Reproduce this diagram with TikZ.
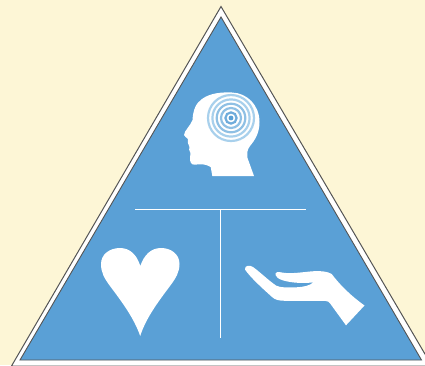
\documentclass[tikz,border=0pt]{standalone}
\definecolor{cream}{HTML}{FDF6D6}
\definecolor{tblue}{HTML}{5AA0D6}
\definecolor{ringa}{HTML}{A8D0EC}
\definecolor{ringb}{HTML}{8FC0E4}
\definecolor{ringc}{HTML}{6FACDB}
\definecolor{edge}{HTML}{555555}
\tikzset{
  outer/.style={fill=white,draw=edge,line width=1pt,line join=miter},
  inner/.style={fill=tblue,draw=edge,line width=0.9pt,line join=miter},
  icon/.style={fill=white,draw=none},
  rule/.style={draw=white,line width=1.2pt},
  ringline/.style={fill=none,line width=2.2pt},
}
\begin{document}
\begin{tikzpicture}[x=1pt,y=-1pt]
\useasboundingbox (0,0) rectangle (425,365);
\fill[cream] (0,0) rectangle (425,365);
\begin{scope}
\clip (0,0) rectangle (425,365);
\coordinate (oa) at (221,6.5);
\coordinate (ol) at (11.5,366);
\coordinate (or) at (432,366);
\draw[outer] (oa) -- (ol) -- (or) -- cycle;
\coordinate (ia) at (221,17);
\coordinate (il) at (20,360);
\coordinate (ir) at (421.5,360);
\draw[inner] (ia) -- (il) -- (ir) -- cycle;
\end{scope}
\coordinate (h1) at (135,209.4);
\coordinate (h2) at (306,209.4);
\coordinate (v1) at (220.5,209.4);
\coordinate (v2) at (220.5,338);
\draw[rule] (h1) -- (h2);
\draw[rule] (v1) -- (v2);
% head
\fill[icon] (212.3,176) -- (210.7,167)
 .. controls (205,163.5) and (200,164) .. (195,164.7)
 .. controls (191,165) and (190,162) .. (190,158)
 .. controls (190,156) and (191,155) .. (190.5,153)
 .. controls (188,151) and (190,149) .. (189.3,146.5)
 .. controls (187,144) and (188,141) .. (188,139)
 .. controls (187,137) and (184,137) .. (184,135)
 .. controls (184,131) and (191,125) .. (192.5,120)
 .. controls (193,110) and (196,103) .. (202,99)
 .. controls (210,93) and (222,92) .. (232,92.5)
 .. controls (247,93) and (259.5,105) .. (259.5,122)
 .. controls (259.5,133) and (255,140) .. (250,146)
 .. controls (247,150) and (247,153) .. (247.5,158)
 -- (254,176) -- cycle;
% rings
\draw[ringline,draw=ringa] (231,118) circle (23);
\draw[ringline,draw=ringa] (231,118) circle (18.6);
\draw[ringline,draw=ringb] (231,118) circle (14.3);
\draw[ringline,draw=ringb] (231,118) circle (10);
\draw[ringline,draw=ringc] (231,118) circle (5.6);
\fill[tblue] (231,118) circle (2.4);
% heart
\fill[icon] (140.2,336)
 .. controls (134,318) and (122,302) .. (110,286)
 .. controls (104,278) and (101,272) .. (101,264)
 .. controls (101,254) and (110,248) .. (120,248)
 .. controls (130,248) and (137,255) .. (140.3,266)
 .. controls (144,255) and (151,248) .. (161,248)
 .. controls (171,248) and (179.5,254) .. (179.5,264)
 .. controls (179.5,272) and (176,278) .. (170,286)
 .. controls (158,302) and (146,318) .. (140.2,336) -- cycle;
% hand
\fill[icon] (346,325.3) -- (364.5,305.5)
 .. controls (350,295) and (340,285) .. (331.7,274)
 .. controls (328,271.5) and (320,270.5) .. (310,271.5)
 .. controls (300,272.5) and (290,274) .. (282,272.5)
 .. controls (278,271.5) and (275,272) .. (275.5,275)
 .. controls (277,279.5) and (285,281.5) .. (295,282.6)
 .. controls (301,283.2) and (309,283) .. (313.3,282.3)
 .. controls (310,285.5) and (304,287) .. (296,287.3)
 .. controls (288,287.5) and (281,288) .. (276,285.5)
 .. controls (268,280) and (260,272) .. (253,267)
 .. controls (250,265) and (244.5,265) .. (245,269.5)
 .. controls (250,277) and (262,288) .. (271.7,296.7)
 .. controls (275,300) and (279,300.7) .. (285,300.8)
 .. controls (300,300.8) and (315,300.8) .. (325,300.8)
 .. controls (328,301) and (329,302) .. (330,303.3)
 -- cycle;
\end{tikzpicture}
\end{document}
